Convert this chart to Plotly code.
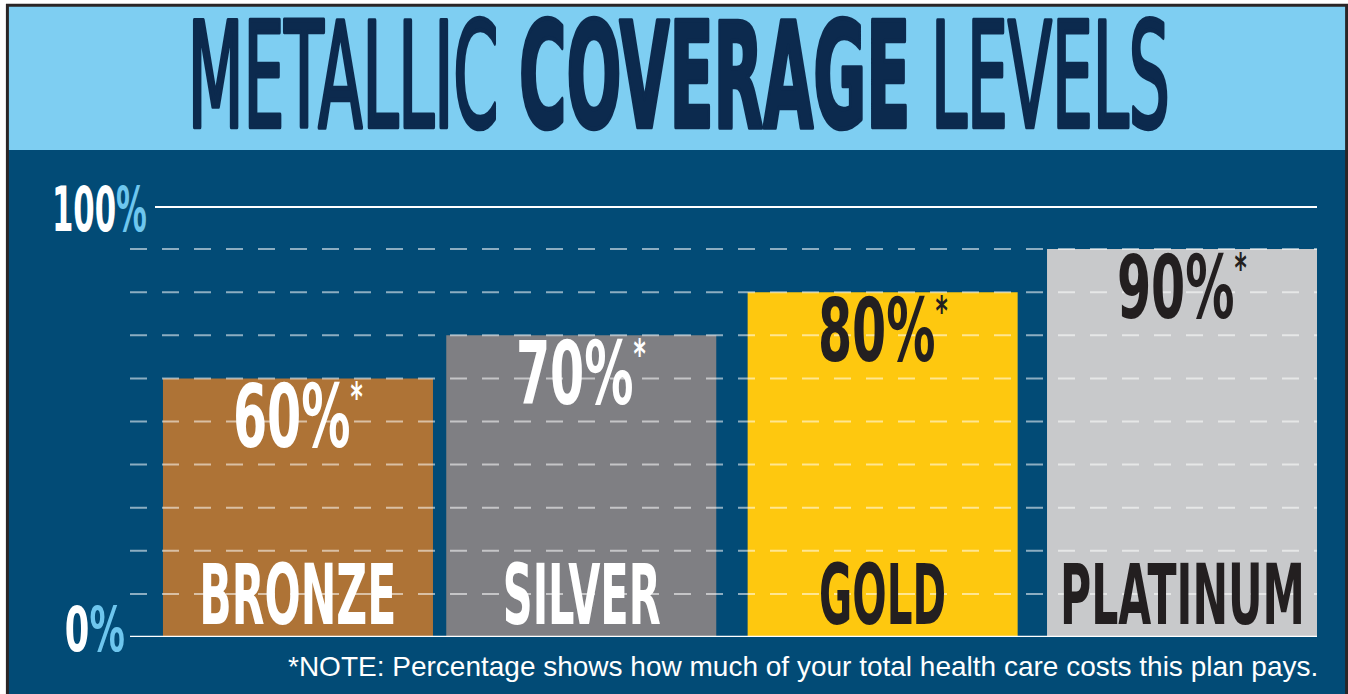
import json
import plotly.graph_objects as go

# ---------------- data ----------------
categories = ["BRONZE", "SILVER", "GOLD", "PLATINUM"]
coverage = [60, 70, 80, 90]
bar_colors = ["#ae7336", "#7f7f83", "#fec80f", "#c8c9cb"]
label_colors = ["#ffffff", "#ffffff", "#231f20", "#231f20"]
grid_values = [10, 20, 30, 40, 50, 60, 70, 80, 90]
axis_min, axis_max = 0, 100
title_parts = ["METALLIC", "COVERAGE", "LEVELS"]
note_text = "*NOTE: Percentage shows how much of your total health care costs this plan pays."

# ---------------- styling ----------------
W, H = 1348, 694
ML, MR, MT, MB = 130, 31, 206, 57
PW, PH = W - ML - MR, H - MT - MB
DARK_BLUE = "#024b76"
LIGHT_BLUE = "#7ecef2"
NAVY = "#0c2a4e"
PCT_BLUE = "#6ec6ee"
BORDER = "#2a2526"
NARROW = "Liberation Sans Narrow, DejaVu Sans Condensed, Liberation Sans, Arial, sans-serif"
SANS = "Liberation Sans, Arial, Helvetica, sans-serif"
CAP = 0.716

X_RANGE = [-0.570, 3.458]
BARGAP = 0.0837
UNIT_PX = PW / (X_RANGE[1] - X_RANGE[0])
BAR_W = 1 - BARGAP
bar_shift_px = [0, -11.4, -4.7, 0]          # small irregular spacing of the original
bar_offsets = [-BAR_W / 2 + s / UNIT_PX for s in bar_shift_px]


def px_x(p):
    return (p - ML) / PW


def px_y(p):
    return (H - MB - p) / PH


fig = go.Figure()
fig.add_trace(go.Bar(
    x=categories, y=coverage, width=BAR_W, offset=bar_offsets,
    marker=dict(color=bar_colors, line=dict(width=0)),
    hoverinfo="skip", showlegend=False,
))

shapes = []
shapes.append(dict(type="rect", xref="paper", yref="paper", layer="below",
                   x0=px_x(7), x1=px_x(1348), y0=px_y(150), y1=px_y(H + 2),
                   fillcolor=DARK_BLUE, line=dict(width=0)))
shapes.append(dict(type="rect", xref="paper", yref="paper", layer="below",
                   x0=px_x(7), x1=px_x(1346), y0=px_y(6), y1=px_y(150),
                   fillcolor=LIGHT_BLUE, line=dict(width=0)))
shapes.append(dict(type="line", xref="paper", yref="paper", layer="above",
                   x0=px_x(6), x1=px_x(1348), y0=px_y(5.3), y1=px_y(5.3),
                   line=dict(color=BORDER, width=3)))
shapes.append(dict(type="line", xref="paper", yref="paper", layer="above",
                   x0=px_x(7.4), x1=px_x(7.4), y0=px_y(4), y1=px_y(H + 2),
                   line=dict(color=BORDER, width=3)))
shapes.append(dict(type="line", xref="paper", yref="paper", layer="above",
                   x0=px_x(1346.6), x1=px_x(1346.6), y0=px_y(4), y1=px_y(H + 2),
                   line=dict(color=BORDER, width=3)))
for v in grid_values:
    shapes.append(dict(type="line", xref="paper", yref="y", layer="above",
                       x0=0, x1=1, y0=v, y1=v,
                       line=dict(color="rgba(255,255,255,0.55)", width=2, dash="17px,15px")))
shapes.append(dict(type="line", xref="paper", yref="y", layer="above",
                   x0=px_x(155), x1=1, y0=axis_max, y1=axis_max,
                   line=dict(color="#ffffff", width=4)))
shapes.append(dict(type="line", xref="paper", yref="y", layer="above",
                   x0=0, x1=1, y0=axis_min, y1=axis_min,
                   line=dict(color="#ffffff", width=2.5)))

annotations = []
specs = []  # per annotation: [target width px, scaleY, stroke width] or None


def add_ann(spec, **kw):
    annotations.append(dict(showarrow=False, **kw))
    specs.append(spec)


title_fs = 100
add_ann([982, 105 / (CAP * title_fs), 3.2],
        text=f"{title_parts[0]} <b>{title_parts[1]}</b> {title_parts[2]}",
        xref="paper", yref="paper", x=px_x(679), y=px_y(76),
        xanchor="center", yanchor="middle",
        font=dict(family=NARROW, size=title_fs, color=NAVY))

tick_fs = 60
add_ann([95, 44 / (CAP * tick_fs), 0],
        text=f"<b>{axis_max}<span style='color:{PCT_BLUE}'>%</span></b>",
        xref="paper", yref="y", x=px_x(99.5), y=axis_max, yshift=-4,
        xanchor="center", yanchor="middle",
        font=dict(family=NARROW, size=tick_fs, color="#ffffff"))
add_ann([60, 44 / (CAP * tick_fs), 0],
        text=f"<b>{axis_min}<span style='color:{PCT_BLUE}'>%</span></b>",
        xref="paper", yref="y", x=px_x(95), y=axis_min, yshift=7,
        xanchor="center", yanchor="middle",
        font=dict(family=NARROW, size=tick_fs, color="#ffffff"))

val_fs = 84
for cat, v, col, sh in zip(categories, coverage, label_colors, bar_shift_px):
    add_ann([130, 62 / (CAP * val_fs), 0],
            text=f"<b>{v}%<sup><span style='font-size:40px'>*</span></sup></b>",
            xref="x", yref="y", x=cat, y=v, yshift=-39, xshift=sh,
            xanchor="center", yanchor="middle",
            font=dict(family=NARROW, size=val_fs, color=col))

cat_widths = [197, 158, 127, 245]
for cat, col, w, sh in zip(categories, label_colors, cat_widths, bar_shift_px):
    add_ann([w, 60 / (CAP * val_fs), 0],
            text=f"<b>{cat}</b>",
            xref="x", yref="y", x=cat, y=axis_min, yshift=42, xshift=sh,
            xanchor="center", yanchor="middle",
            font=dict(family=NARROW, size=val_fs, color=col))

add_ann(None, text=note_text, xref="paper", yref="paper",
        x=px_x(1320), y=px_y(666), xanchor="right", yanchor="middle",
        font=dict(family=SANS, size=28, color="#ffffff"))

fig.update_layout(
    width=W, height=H,
    margin=dict(l=ML, r=MR, t=MT, b=MB, pad=0),
    paper_bgcolor="#ffffff", plot_bgcolor="rgba(0,0,0,0)",
    bargap=BARGAP,
    xaxis=dict(type="category", range=X_RANGE, showgrid=False,
               zeroline=False, showticklabels=False, showline=False, fixedrange=True),
    yaxis=dict(range=[axis_min, axis_max], showgrid=False, zeroline=False,
               showticklabels=False, showline=False, fixedrange=True),
    shapes=shapes, annotations=annotations, showlegend=False,
)

post_js = """
var gd = document.getElementById('{plot_id}');
var specs = SPECS_JSON;
function fixText(){
  var groups = gd.querySelectorAll('g.annotation');
  groups.forEach(function(g){
    var idx = parseInt(g.getAttribute('data-index'));
    var s = specs[idx];
    if(!s) return;
    var t = g.querySelector('text.annotation-text');
    if(!t) return;
    t.style.transform = 'none';
    var w = t.getBBox().width;
    if(!w) return;
    var sx = s[0] / w;
    t.style.transformBox = 'fill-box';
    t.style.transformOrigin = 'center';
    t.style.transform = 'scale(' + sx + ',' + s[1] + ')';
    if(s[2] > 0){
      t.style.stroke = t.style.fill || 'currentColor';
      t.style.strokeWidth = s[2] + 'px';
      t.style.strokeLinejoin = 'round';
    }
  });
}
fixText();
gd.on('plotly_afterplot', fixText);
setTimeout(fixText, 50);
setTimeout(fixText, 400);
""".replace("SPECS_JSON", json.dumps(specs))

fig.write_html("out.html", post_script=post_js, config={"displayModeBar": False})
